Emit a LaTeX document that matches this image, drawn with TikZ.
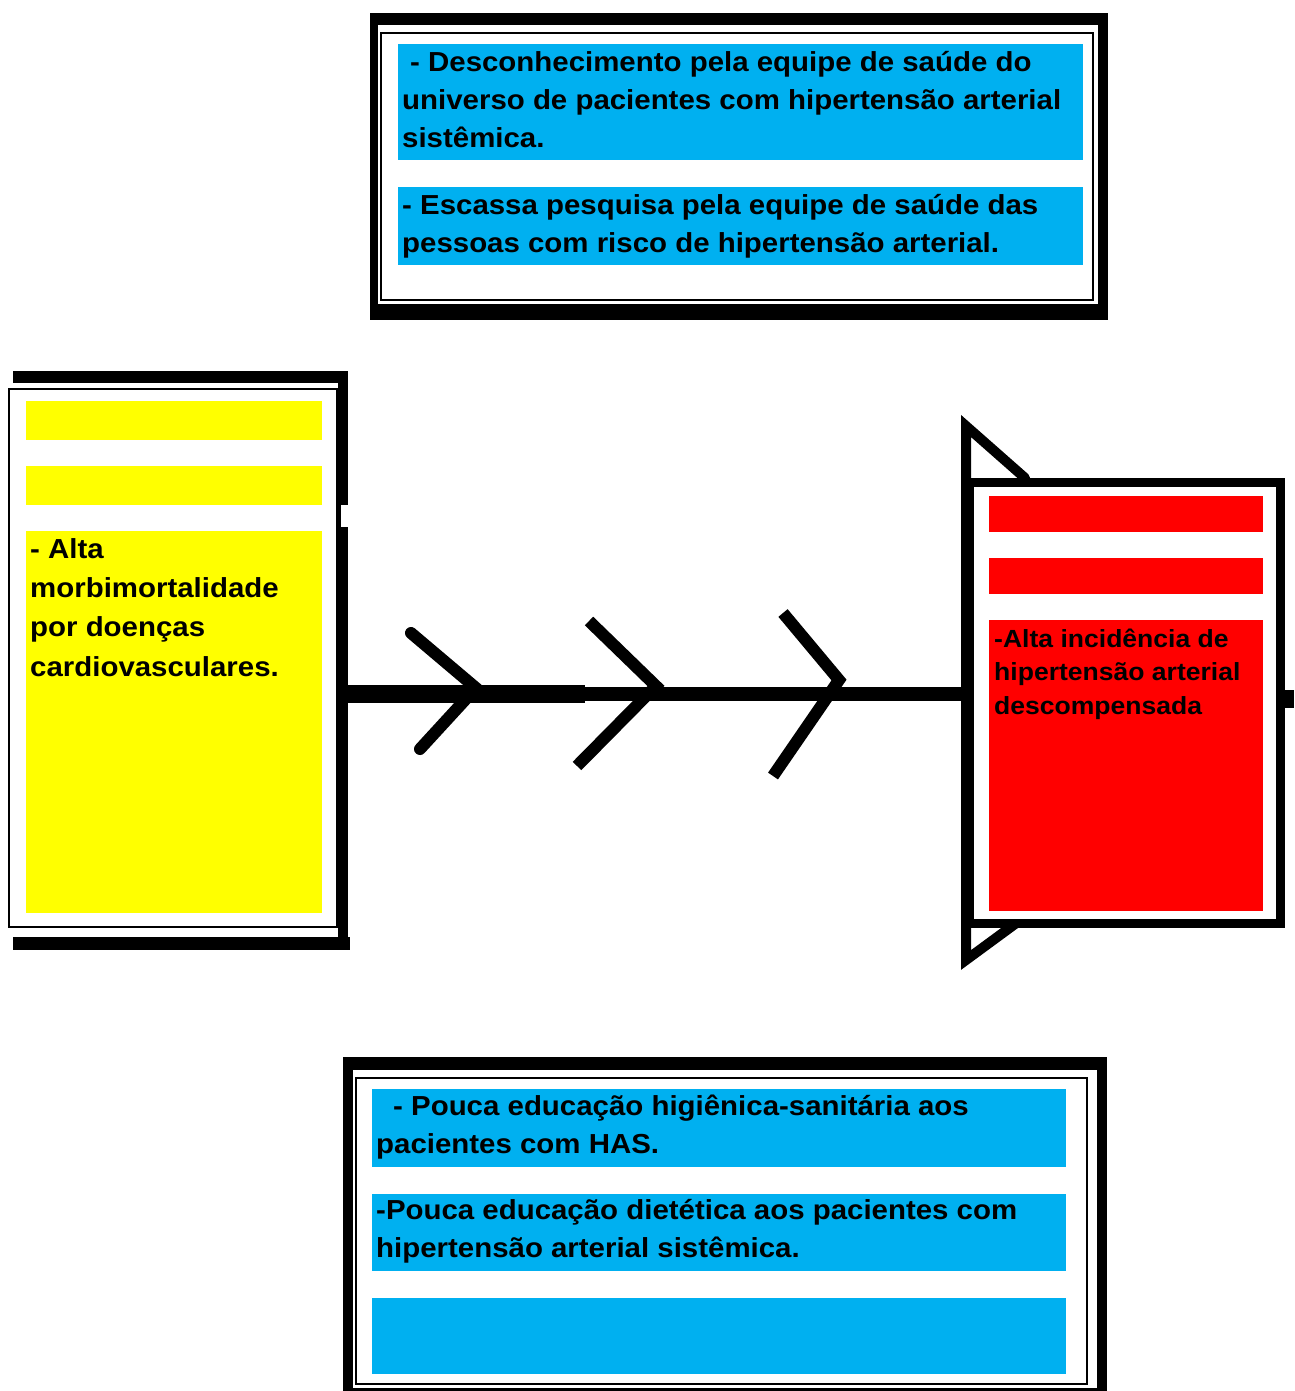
\documentclass[tikz,border=0pt]{standalone}
\usepackage{fontspec}
\setmainfont{Liberation Sans}[FakeStretch=1.07]
\definecolor{cblue}{HTML}{00B0F0}
\definecolor{cyel}{HTML}{FFFF00}
\definecolor{cred}{HTML}{FF0000}
\begin{document}
\begin{tikzpicture}[x=1pt,y=-1pt,
  lbl/.style={anchor=base west, inner sep=0pt, font=\bfseries\fontsize{27.5}{38}\selectfont},
  lblr/.style={anchor=base west, inner sep=0pt, font=\bfseries\fontsize{24.8}{34}\selectfont},
  bar/.style={fill=black},
  thin/.style={draw=black, line width=1.6pt},
  chev/.style={draw=black, line width=12pt, line cap=round, line join=miter},
  spine/.style={draw=black}
]
\useasboundingbox (0,0) rectangle (1294,1391);
\fill[white] (0,0) rectangle (1294,1391);

% ---------- top box ----------
\fill[bar] (370,13) rectangle (1108,25);
\fill[bar] (370,13) rectangle (378,320);
\fill[bar] (1098,13) rectangle (1108,320);
\fill[bar] (370,304) rectangle (1108,320);
\draw[thin] (381,33) rectangle (1093,300);
\fill[cblue] (398,44) rectangle (1083,160);
\fill[cblue] (398,187) rectangle (1083,265);
\node[lbl] (ta1) at (410,72) {- Desconhecimento pela equipe de saúde do};
\node[lbl] (ta2) at (402,110) {universo de pacientes com hipertensão arterial};
\node[lbl] (ta3) at (402,148) {sistêmica.};
\node[lbl] (tb1) at (402,214) {- Escassa pesquisa pela equipe de saúde das};
\node[lbl] (tb2) at (402,252) {pessoas com risco de hipertensão arterial.};

% ---------- left box ----------
\fill[bar] (13,371) rectangle (347,383);
\fill[bar] (338,371) rectangle (348,950);
\fill[bar] (13,937) rectangle (350,950);
\fill[white] (341,505) rectangle (349,527);
\draw[thin] (9,389) rectangle (337,927);
\fill[cyel] (26,401) rectangle (322,440);
\fill[cyel] (26,466) rectangle (322,505);
\fill[cyel] (26,531) rectangle (322,913);
\node[lbl] (la1) at (30,558) {- Alta};
\node[lbl] (la2) at (30,597) {morbimortalidade};
\node[lbl] (la3) at (30,636) {por doenças};
\node[lbl] (la4) at (30,676) {cardiovasculares.};

% ---------- spine and chevrons ----------
\coordinate (sL) at (348,694);
\coordinate (sM) at (585,694);
\coordinate (sR) at (966,694);
\draw[spine, line width=18pt] (sL) -- (sM);
\draw[spine, line width=14pt] (sM) -- (sR);
\coordinate (c1a) at (411,633); \coordinate (c1b) at (476,688); \coordinate (c1c) at (420,749);
\coordinate (c2a) at (589,621); \coordinate (c2b) at (656,686); \coordinate (c2c) at (577,766);
\coordinate (c3a) at (783,613); \coordinate (c3b) at (839,680); \coordinate (c3c) at (773,776);
\draw[chev] (c1a) -- (c1b) -- (c1c);
\draw[chev, line cap=butt] (c2a) -- (c2b) -- (c2c);
\draw[chev, line cap=butt] (c3a) -- (c3b) -- (c3c);

% ---------- right box (head) ----------
\coordinate (hT) at (966,426);
\coordinate (hB) at (966,960);
\coordinate (hT2) at (1025,478);
\coordinate (hB2) at (1015,924);
\draw[black, line width=10pt, line cap=round] (hT2) -- (hT) -- (hB) -- (hB2);
\fill[bar] (1284,690) rectangle (1294,708);
\draw[black, line width=9pt, fill=white] (969.5,482.5) rectangle (1280.5,923.5);
\fill[cred] (989,496) rectangle (1263,532);
\fill[cred] (989,558) rectangle (1263,594);
\fill[cred] (989,620) rectangle (1263,911);
\node[lblr] (ra1) at (994,647) {-Alta incidência de};
\node[lblr] (ra2) at (994,680) {hipertensão arterial};
\node[lblr] (ra3) at (994,714) {descompensada};

% ---------- bottom box ----------
\fill[bar] (343,1057) rectangle (1107,1070);
\fill[bar] (343,1057) rectangle (353,1391);
\fill[bar] (1097,1057) rectangle (1107,1391);
\fill[bar] (343,1388) rectangle (1107,1391);
\draw[thin] (356,1078) rectangle (1087,1384);
\fill[cblue] (372,1089) rectangle (1066,1167);
\fill[cblue] (372,1194) rectangle (1066,1271);
\fill[cblue] (372,1298) rectangle (1066,1374);
\node[lbl] (ba1) at (393,1115) {- Pouca educação higiênica-sanitária aos};
\node[lbl] (ba2) at (376,1153) {pacientes com HAS.};
\node[lbl] (bb1) at (376,1219) {-Pouca educação dietética aos pacientes com};
\node[lbl] (bb2) at (376,1257) {hipertensão arterial sistêmica.};
\end{tikzpicture}
\end{document}
